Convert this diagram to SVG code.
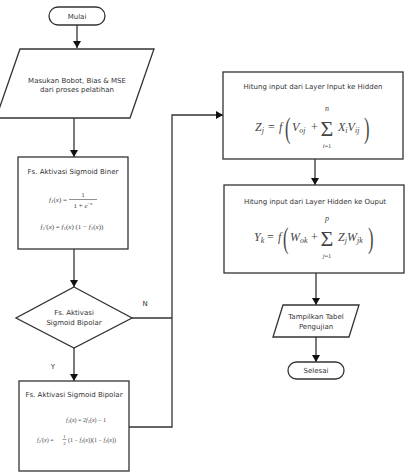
<svg xmlns="http://www.w3.org/2000/svg" width="409" height="473" viewBox="0 0 409 473">
<defs>
<marker id="ah" markerWidth="8" markerHeight="8" refX="7" refY="4" orient="auto" markerUnits="userSpaceOnUse">
<path d="M0,0 L7,4 L0,8 Z" fill="#111"/>
</marker>
<style>
.s{fill:#fff;stroke:#333;stroke-width:1.3}
.t{font-family:"DejaVu Sans",sans-serif;font-size:7px;fill:#333;text-anchor:middle}
.m{font-family:"Liberation Serif",serif;font-style:italic;fill:#444}
.mu{font-family:"Liberation Serif",serif;font-style:normal;fill:#444}
.c{fill:none;stroke:#333;stroke-width:1.3}
</style>
</defs>
<rect width="409" height="473" fill="#fff"/>
<g id="connectors">
<line class="c" x1="77" y1="25" x2="77" y2="48" marker-end="url(#ah)"/>
<line class="c" x1="74" y1="118" x2="74" y2="157" marker-end="url(#ah)"/>
<line class="c" x1="74" y1="249" x2="74" y2="287" marker-end="url(#ah)"/>
<line class="c" x1="74" y1="348" x2="74" y2="381" marker-end="url(#ah)"/>
<polyline class="c" points="132,318 172,318"/>
<polyline class="c" points="129,427 172,427 172,115 223,115" marker-end="url(#ah)"/>
<line class="c" x1="315" y1="159" x2="315" y2="185" marker-end="url(#ah)"/>
<line class="c" x1="316" y1="273" x2="316" y2="305" marker-end="url(#ah)"/>
<line class="c" x1="316" y1="337" x2="316" y2="362" marker-end="url(#ah)"/>
<text class="t" x="145" y="306">N</text>
<text class="t" x="53" y="369">Y</text>
</g>
<g id="mulai">
<rect class="s" x="49" y="7" width="56" height="18" rx="9"/>
<text class="t" x="77" y="18.5">Mulai</text>
</g>
<g id="input">
<polygon class="s" points="20,49 154,49 130,118 -4,118"/>
<text class="t" x="77" y="83">Masukan Bobot, Bias &amp; MSE</text>
<text class="t" x="77" y="92">dari proses pelatihan</text>
</g>
<g id="biner">
<rect class="s" x="18" y="157" width="110" height="92"/>
<text class="t" x="73" y="174">Fs. Aktivasi Sigmoid Biner</text>
<text class="m" font-size="7" x="67" y="202" text-anchor="end">f<tspan font-size="5" dy="1">1</tspan><tspan class="mu" dy="-1">(</tspan>x<tspan class="mu">) =</tspan></text>
<line x1="69" y1="199.5" x2="97" y2="199.5" stroke="#444" stroke-width="0.6"/>
<text class="mu" font-size="7" x="83" y="197" text-anchor="middle">1</text>
<text class="mu" font-size="7" x="83" y="208" text-anchor="middle">1 + <tspan class="m">e</tspan><tspan font-size="5" dy="-3">−<tspan class="m">x</tspan></tspan></text>
<text class="m" font-size="7" x="72" y="229" text-anchor="middle">f<tspan font-size="5" dy="1">1</tspan><tspan class="mu" dy="-1">'(</tspan>x<tspan class="mu">) = </tspan>f<tspan font-size="5" dy="1">1</tspan><tspan class="mu" dy="-1">(</tspan>x<tspan class="mu">) (1 − </tspan>f<tspan font-size="5" dy="1">1</tspan><tspan class="mu" dy="-1">(</tspan>x<tspan class="mu">))</tspan></text>
</g>
<g id="decision">
<polygon class="s" points="74,287 132,318 74,348 16,318"/>
<text class="t" x="74" y="315">Fs. Aktivasi</text>
<text class="t" x="74" y="325">Sigmoid Bipolar</text>
</g>
<g id="bipolar">
<rect class="s" x="19" y="381" width="110" height="90"/>
<text class="t" x="74" y="397">Fs. Aktivasi Sigmoid Bipolar</text>
<text class="m" font-size="6" x="86" y="422" text-anchor="middle">f<tspan font-size="4.5" dy="1">2</tspan><tspan class="mu" dy="-1">(</tspan>x<tspan class="mu">) = 2</tspan>f<tspan font-size="4.5" dy="1">1</tspan><tspan class="mu" dy="-1">(</tspan>x<tspan class="mu">) − 1</tspan></text>
<text class="m" font-size="6" x="37" y="442">f<tspan font-size="4.5" dy="1">2</tspan><tspan class="mu" dy="-1">'(</tspan>x<tspan class="mu">) =</tspan></text>
<text class="mu" font-size="5" x="64.5" y="438" text-anchor="middle">1</text>
<line x1="62.5" y1="439.5" x2="66.5" y2="439.5" stroke="#444" stroke-width="0.5"/>
<text class="mu" font-size="5" x="64.5" y="445" text-anchor="middle">2</text>
<text class="m" font-size="6" x="68" y="442"><tspan class="mu">(1 − </tspan>f<tspan font-size="4.5" dy="1">2</tspan><tspan class="mu" dy="-1">(</tspan>x<tspan class="mu">))(1 − </tspan>f<tspan font-size="4.5" dy="1">2</tspan><tspan class="mu" dy="-1">(</tspan>x<tspan class="mu">))</tspan></text>
</g>
<g id="hidden">
<rect class="s" x="223" y="72" width="180" height="87"/>
<text class="t" x="313" y="89">Hitung input dari Layer Input ke Hidden</text>
<text class="m" font-size="12" x="255" y="131">Z<tspan font-size="8" dy="2">j</tspan></text>
<text class="mu" font-size="12" x="268" y="131">=</text>
<text class="m" font-size="12" x="279" y="131">f</text>
<text class="mu" font-size="30" x="0" y="0" transform="translate(285 138) scale(0.55 1)">(</text>
<text class="m" font-size="12" x="292" y="131">V<tspan font-size="8" dy="2">oj</tspan></text>
<text class="mu" font-size="12" x="311" y="131">+</text>
<text class="mu" font-size="22" x="327" y="135.5" text-anchor="middle">Σ</text>
<text class="m" font-size="8" x="327" y="111" text-anchor="middle">n</text>
<text class="m" font-size="6.5" x="327" y="147.5" text-anchor="middle">i<tspan class="mu">=1</tspan></text>
<text class="m" font-size="12" x="338" y="131">X<tspan font-size="8" dy="2">i</tspan><tspan dy="-2">V</tspan><tspan font-size="8" dy="2">ij</tspan></text>
<text class="mu" font-size="30" x="0" y="0" transform="translate(364 138) scale(0.55 1)">)</text>
</g>
<g id="output">
<rect class="s" x="224" y="185" width="180" height="88"/>
<text class="t" x="315" y="204">Hitung input dari Layer  Hidden ke Ouput</text>
<text class="m" font-size="12" x="254" y="241">Y<tspan font-size="8" dy="2">k</tspan></text>
<text class="mu" font-size="12" x="267" y="241">=</text>
<text class="m" font-size="12" x="278" y="241">f</text>
<text class="mu" font-size="30" x="0" y="0" transform="translate(283 248) scale(0.55 1)">(</text>
<text class="m" font-size="12" x="290" y="241">W<tspan font-size="8" dy="2">ok</tspan></text>
<text class="mu" font-size="12" x="311" y="241">+</text>
<text class="mu" font-size="22" x="327" y="245.5" text-anchor="middle">Σ</text>
<text class="m" font-size="8" x="327" y="221" text-anchor="middle">p</text>
<text class="m" font-size="6.5" x="327" y="257.5" text-anchor="middle">j<tspan class="mu">=1</tspan></text>
<text class="m" font-size="12" x="338" y="241">Z<tspan font-size="8" dy="2">j</tspan><tspan dy="-2">W</tspan><tspan font-size="8" dy="2">jk</tspan></text>
<text class="mu" font-size="30" x="0" y="0" transform="translate(368 248) scale(0.55 1)">)</text>
</g>
<g id="tampilkan">
<polygon class="s" points="283,305 359,305 349,337 273,337"/>
<text class="t" x="316" y="319">Tampilkan Tabel</text>
<text class="t" x="316" y="329">Pengujian</text>
</g>
<g id="selesai">
<rect class="s" x="288" y="362" width="56" height="17" rx="8.5"/>
<text class="t" x="316" y="373">Selesai</text>
</g>
</svg>
